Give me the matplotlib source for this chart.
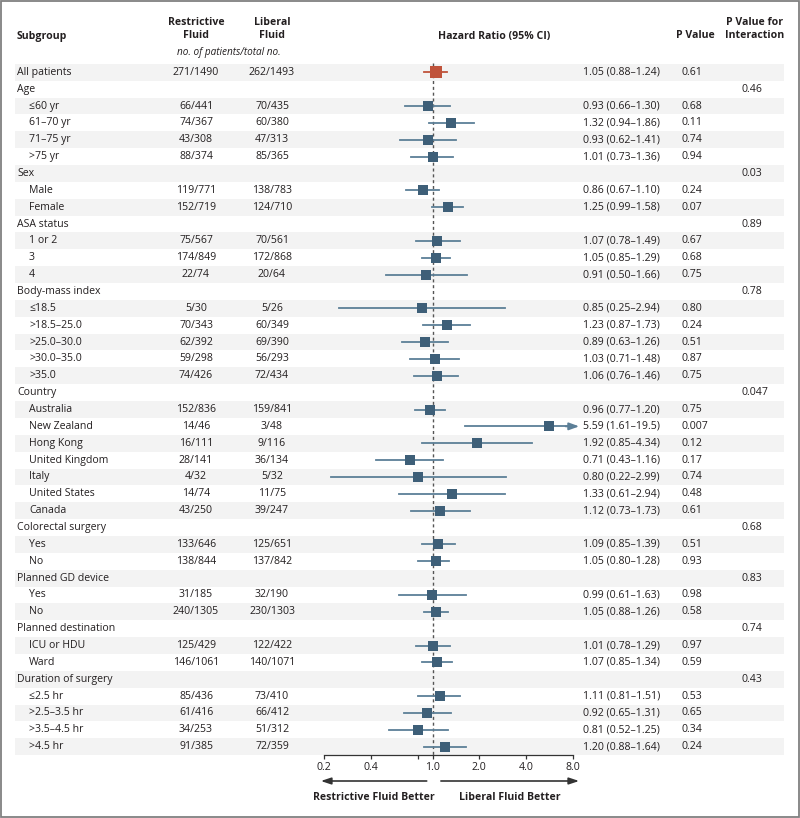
import numpy as np
import matplotlib
matplotlib.use("Agg")
import matplotlib.pyplot as plt
from matplotlib.patches import Rectangle

plt.rcParams['font.family'] = ['Open Sans', 'DejaVu Sans']

# ---- data ----
subgroup = ["All patients",
            "Age", "≤60 yr", "61–70 yr", "71–75 yr", ">75 yr",
            "Sex", "Male", "Female",
            "ASA status", "1 or 2", "3", "4",
            "Body-mass index", "≤18.5", ">18.5–25.0", ">25.0–30.0", ">30.0–35.0", ">35.0",
            "Country", "Australia", "New Zealand", "Hong Kong", "United Kingdom", "Italy",
            "United States", "Canada",
            "Colorectal surgery", "Yes", "No",
            "Planned GD device", "Yes", "No",
            "Planned destination", "ICU or HDU", "Ward",
            "Duration of surgery", "≤2.5 hr", ">2.5–3.5 hr", ">3.5–4.5 hr", ">4.5 hr"]
indent = [0,
          0, 1, 1, 1, 1,
          0, 1, 1,
          0, 1, 1, 1,
          0, 1, 1, 1, 1, 1,
          0, 1, 1, 1, 1, 1, 1, 1,
          0, 1, 1,
          0, 1, 1,
          0, 1, 1,
          0, 1, 1, 1, 1]
restrictive = ["271/1490",
               "", "66/441", "74/367", "43/308", "88/374",
               "", "119/771", "152/719",
               "", "75/567", "174/849", "22/74",
               "", "5/30", "70/343", "62/392", "59/298", "74/426",
               "", "152/836", "14/46", "16/111", "28/141", "4/32", "14/74", "43/250",
               "", "133/646", "138/844",
               "", "31/185", "240/1305",
               "", "125/429", "146/1061",
               "", "85/436", "61/416", "34/253", "91/385"]
liberal = ["262/1493",
           "", "70/435", "60/380", "47/313", "85/365",
           "", "138/783", "124/710",
           "", "70/561", "172/868", "20/64",
           "", "5/26", "60/349", "69/390", "56/293", "72/434",
           "", "159/841", "3/48", "9/116", "36/134", "5/32", "11/75", "39/247",
           "", "125/651", "137/842",
           "", "32/190", "230/1303",
           "", "122/422", "140/1071",
           "", "73/410", "66/412", "51/312", "72/359"]
hr = [1.05,
      None, 0.93, 1.32, 0.93, 1.01,
      None, 0.86, 1.25,
      None, 1.07, 1.05, 0.91,
      None, 0.85, 1.23, 0.89, 1.03, 1.06,
      None, 0.96, 5.59, 1.92, 0.71, 0.80, 1.33, 1.12,
      None, 1.09, 1.05,
      None, 0.99, 1.05,
      None, 1.01, 1.07,
      None, 1.11, 0.92, 0.81, 1.20]
ci_lo = [0.88,
         None, 0.66, 0.94, 0.62, 0.73,
         None, 0.67, 0.99,
         None, 0.78, 0.85, 0.50,
         None, 0.25, 0.87, 0.63, 0.71, 0.76,
         None, 0.77, 1.61, 0.85, 0.43, 0.22, 0.61, 0.73,
         None, 0.85, 0.80,
         None, 0.61, 0.88,
         None, 0.78, 0.85,
         None, 0.81, 0.65, 0.52, 0.88]
ci_hi = [1.24,
         None, 1.30, 1.86, 1.41, 1.36,
         None, 1.10, 1.58,
         None, 1.49, 1.29, 1.66,
         None, 2.94, 1.73, 1.26, 1.48, 1.46,
         None, 1.20, 19.5, 4.34, 1.16, 2.99, 2.94, 1.73,
         None, 1.39, 1.28,
         None, 1.63, 1.26,
         None, 1.29, 1.34,
         None, 1.51, 1.31, 1.25, 1.64]
hr_text = ["1.05 (0.88–1.24)",
           "", "0.93 (0.66–1.30)", "1.32 (0.94–1.86)", "0.93 (0.62–1.41)", "1.01 (0.73–1.36)",
           "", "0.86 (0.67–1.10)", "1.25 (0.99–1.58)",
           "", "1.07 (0.78–1.49)", "1.05 (0.85–1.29)", "0.91 (0.50–1.66)",
           "", "0.85 (0.25–2.94)", "1.23 (0.87–1.73)", "0.89 (0.63–1.26)", "1.03 (0.71–1.48)",
           "1.06 (0.76–1.46)",
           "", "0.96 (0.77–1.20)", "5.59 (1.61–19.5)", "1.92 (0.85–4.34)", "0.71 (0.43–1.16)",
           "0.80 (0.22–2.99)", "1.33 (0.61–2.94)", "1.12 (0.73–1.73)",
           "", "1.09 (0.85–1.39)", "1.05 (0.80–1.28)",
           "", "0.99 (0.61–1.63)", "1.05 (0.88–1.26)",
           "", "1.01 (0.78–1.29)", "1.07 (0.85–1.34)",
           "", "1.11 (0.81–1.51)", "0.92 (0.65–1.31)", "0.81 (0.52–1.25)", "1.20 (0.88–1.64)"]
p_value = ["0.61",
           "", "0.68", "0.11", "0.74", "0.94",
           "", "0.24", "0.07",
           "", "0.67", "0.68", "0.75",
           "", "0.80", "0.24", "0.51", "0.87", "0.75",
           "", "0.75", "0.007", "0.12", "0.17", "0.74", "0.48", "0.61",
           "", "0.51", "0.93",
           "", "0.98", "0.58",
           "", "0.97", "0.59",
           "", "0.53", "0.65", "0.34", "0.24"]
p_interaction = ["",
                 "0.46", "", "", "", "",
                 "0.03", "", "",
                 "0.89", "", "", "",
                 "0.78", "", "", "", "", "",
                 "0.047", "", "", "", "", "", "", "",
                 "0.68", "", "",
                 "0.83", "", "",
                 "0.74", "", "",
                 "0.43", "", "", "", ""]

xticks = [0.2, 0.4, 0.8, 1.0, 2.0, 4.0, 8.0]
xtick_labels = ["0.2", "0.4", "", "1.0", "2.0", "4.0", "8.0"]

# ---- layout (pixels) ----
W, H = 800, 818
ROW0, ROW_H = 72.3, 16.86
AXIS_Y = 755
X_LO_PX, X_HI_PX = 324.3, 572.7
TXT = "#231f20"
BLUE = "#3e5f78"
LINE_BLUE = "#5c7f97"
RED = "#c0533b"
FS = 7.6

n = len(subgroup)
row_y = ROW0 + np.arange(n) * ROW_H

fig = plt.figure(figsize=(W / 100, H / 100), dpi=100)

# table / background layer in pixel units
tab = fig.add_axes([0, 0, 1, 1])
tab.set_xlim(0, W)
tab.set_ylim(H, 0)
tab.axis("off")

for i, y in enumerate(row_y):
    if i % 2 == 0:
        tab.add_patch(Rectangle((15, y - ROW_H / 2), 769, ROW_H,
                                facecolor="#f3f3f3", edgecolor="none", zorder=0))
    x0 = 17 if indent[i] == 0 else 29
    tab.text(x0, y, subgroup[i], ha="left", va="center", fontsize=FS, color=TXT)
    tab.text(196, y, restrictive[i], ha="center", va="center", fontsize=FS, color=TXT)
    tab.text(272, y, liberal[i], ha="center", va="center", fontsize=FS, color=TXT)
    tab.text(583, y, hr_text[i], ha="left", va="center", fontsize=FS, color=TXT)
    tab.text(681, y, p_value[i], ha="left", va="center", fontsize=FS, color=TXT)
    tab.text(742, y, p_interaction[i], ha="left", va="center", fontsize=FS, color=TXT)

# headers
tab.text(17, 36, "Subgroup", ha="left", va="center", fontsize=FS, fontweight="bold", color=TXT)
tab.text(196, 29, "Restrictive\nFluid", ha="center", va="center", fontsize=FS,
         fontweight="bold", color=TXT, linespacing=1.15)
tab.text(272, 29, "Liberal\nFluid", ha="center", va="center", fontsize=FS,
         fontweight="bold", color=TXT, linespacing=1.15)
tab.text(229, 53, "no. of patients/total no.", ha="center", va="center", fontsize=FS - 0.4,
         style="italic", color=TXT)
tab.text(494, 36, "Hazard Ratio (95% CI)", ha="center", va="center", fontsize=FS,
         fontweight="bold", color=TXT)
tab.text(695, 36, "P Value", ha="center", va="center", fontsize=FS, fontweight="bold", color=TXT)
tab.text(755, 29, "P Value for\nInteraction", ha="center", va="center", fontsize=FS,
         fontweight="bold", color=TXT, linespacing=1.15)
tab.text(374, 798, "Restrictive Fluid Better", ha="center", va="center", fontsize=FS,
         fontweight="bold", color=TXT)
tab.text(510, 798, "Liberal Fluid Better", ha="center", va="center", fontsize=FS,
         fontweight="bold", color=TXT)

# outer frame
tab.add_patch(Rectangle((1, 1), W - 2.5, H - 2.5, facecolor="none",
                        edgecolor="#808080", linewidth=1.3, zorder=5))

# forest plot axes
ax = fig.add_axes([X_LO_PX / W, (H - AXIS_Y) / H, (X_HI_PX - X_LO_PX) / W, AXIS_Y / H])
ax.patch.set_alpha(0)
ax.set_xscale("log", base=2)
ax.set_xlim(xticks[0], xticks[-1])
ax.set_ylim(AXIS_Y, 0)
for s in ["top", "left", "right"]:
    ax.spines[s].set_visible(False)
ax.spines["bottom"].set_color("#333333")
ax.spines["bottom"].set_linewidth(0.9)
ax.set_yticks([])
ax.set_xticks(xticks)
ax.set_xticklabels(xtick_labels)
ax.minorticks_off()
ax.tick_params(axis="x", direction="out", length=3, width=0.9, color="#333333",
               labelsize=FS, labelcolor=TXT, pad=2)

ax.vlines(1.0, row_y[0] - 9, AXIS_Y, colors="#555555", linewidth=1.0,
          linestyles=(0, (2.2, 2.0)), zorder=1)

xmax = xticks[-1]
for i in range(n):
    if hr[i] is None:
        continue
    y = row_y[i]
    col = RED if i == 0 else BLUE
    lcol = RED if i == 0 else LINE_BLUE
    if ci_hi[i] > xmax:
        ax.plot([ci_lo[i], xmax * 0.93], [y, y], color=lcol, linewidth=1.3, zorder=2)
        ax.annotate("", xy=(xmax * 1.1, y), xytext=(xmax * 0.9, y),
                    arrowprops=dict(arrowstyle="-|>,head_length=0.6,head_width=0.22",
                                    color=lcol, linewidth=1.3, shrinkA=0, shrinkB=0),
                    annotation_clip=False, zorder=2)
    else:
        ax.plot([ci_lo[i], ci_hi[i]], [y, y], color=lcol, linewidth=1.3, zorder=2)
    ax.plot(hr[i], y, marker="s", markersize=8 if i == 0 else 6.6, color=col,
            markeredgewidth=0, zorder=3, clip_on=False)

# direction arrows below axis
arrow_y = H - 781
ax.annotate("", xy=(0.19, arrow_y), xytext=(0.915, arrow_y),
            xycoords=("data", "figure pixels"), textcoords=("data", "figure pixels"),
            arrowprops=dict(arrowstyle="-|>,head_length=0.6,head_width=0.2",
                            color="#333333", linewidth=1.2, shrinkA=0, shrinkB=0),
            annotation_clip=False)
ax.annotate("", xy=(8.8, arrow_y), xytext=(1.13, arrow_y),
            xycoords=("data", "figure pixels"), textcoords=("data", "figure pixels"),
            arrowprops=dict(arrowstyle="-|>,head_length=0.6,head_width=0.2",
                            color="#333333", linewidth=1.2, shrinkA=0, shrinkB=0),
            annotation_clip=False)

fig.savefig("out.png", dpi=100)
